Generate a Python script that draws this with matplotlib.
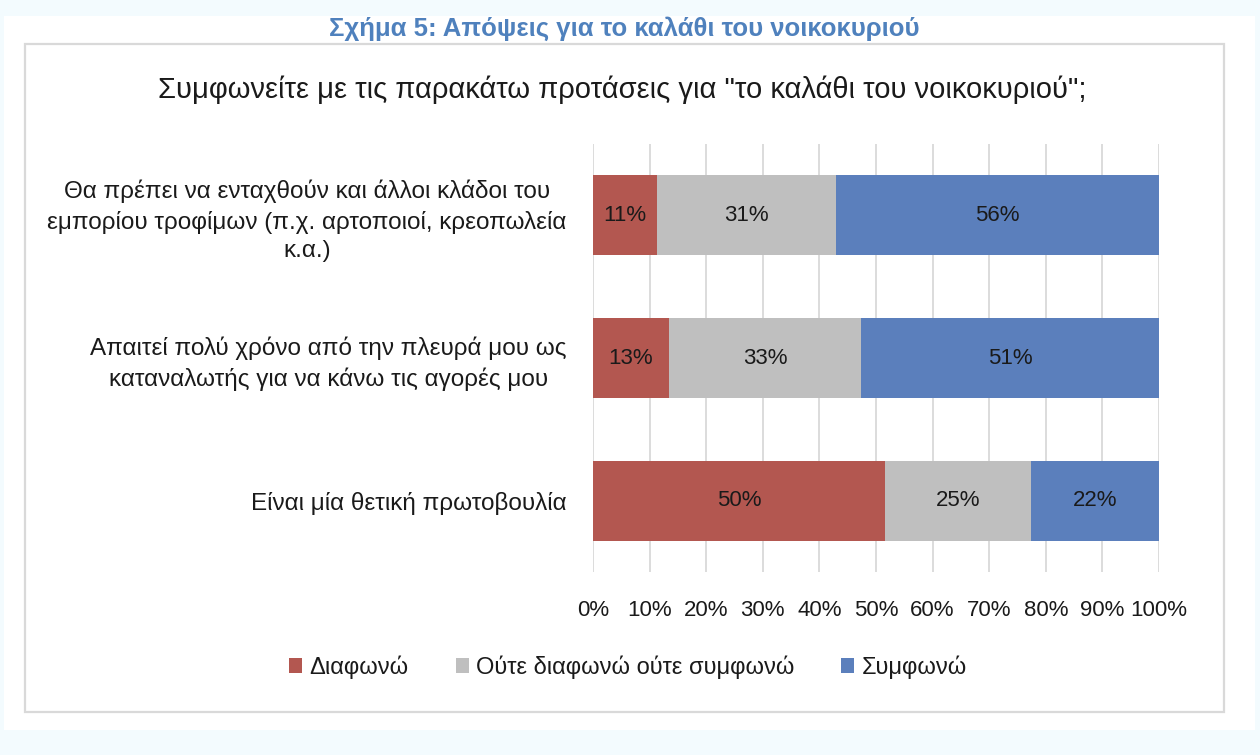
import matplotlib.pyplot as plt
from matplotlib.patches import Rectangle
import numpy as np

plt.rcParams['font.family'] = ['Liberation Sans', 'DejaVu Sans']

# Data (labels show raw %, bars are scaled to 100%)
categories = [
    'Θα πρέπει να ενταχθούν και άλλοι κλάδοι του\nεμπορίου τροφίμων (π.χ. αρτοποιοί, κρεοπωλεία\nκ.α.)',
    'Απαιτεί πολύ χρόνο από την πλευρά μου ως\nκαταναλωτής για να κάνω τις αγορές μου',
    'Είναι μία θετική πρωτοβουλία',
]
disagree = [11, 13, 50]
neutral = [31, 33, 25]
agree = [56, 51, 22]
series_names = ['Διαφωνώ', 'Ούτε διαφωνώ ούτε συμφωνώ', 'Συμφωνώ']
colors = ['#b35750', '#bfbfbf', '#5b7fbc']
tick_labels = ['0%', '10%', '20%', '30%', '40%', '50%', '60%', '70%', '80%', '90%', '100%']

fig = plt.figure(figsize=(12.6, 7.55), dpi=100)
fig.patch.set_facecolor('#f3fbfe')

# white page and grey chart frame (behind the axes)
W, H = 1260, 755
fig.patches.append(Rectangle((4 / W, 1 - 730 / H), (1255 - 4) / W, (730 - 16) / H,
                             transform=fig.transFigure, facecolor='white',
                             edgecolor='none', zorder=-2))
fig.patches.append(Rectangle((25 / W, 1 - 712 / H), (1224 - 25) / W, (712 - 44) / H,
                             transform=fig.transFigure, facecolor='white',
                             edgecolor='#d9d9d9', linewidth=1.6, zorder=-1))

fig.text(624 / W, 1 - 29 / H, 'Σχήμα 5: Απόψεις για το καλάθι του νοικοκυριού',
         ha='center', va='center', fontsize=18.5, fontweight='bold', color='#4f81bd')
fig.text(622 / W, 1 - 90 / H,
         'Συμφωνείτε με τις παρακάτω προτάσεις για "το καλάθι του νοικοκυριού";',
         ha='center', va='center', fontsize=21, color='#1a1a1a')

ax = fig.add_axes([593 / W, 1 - 572 / H, 566 / W, 428 / H])
ax.set_facecolor('none')

data = np.array([disagree, neutral, agree], dtype=float)
shares = data / data.sum(axis=0) * 100
y = np.arange(len(categories))
left = np.zeros(len(categories))
for i in range(len(series_names)):
    ax.barh(y, shares[i], left=left, height=0.56, color=colors[i],
            label=series_names[i], zorder=2)
    for j in range(len(categories)):
        ax.text(left[j] + shares[i][j] / 2, y[j], f'{int(data[i][j])}%',
                ha='center', va='center', fontsize=16, color='#1a1a1a', zorder=3)
    left += shares[i]

ax.set_xlim(0, 100)
ax.set_ylim(len(categories) - 0.5, -0.5)
ax.set_xticks(np.arange(0, 101, 10))
ax.set_xticklabels(tick_labels, fontsize=16, color='#1a1a1a')
ax.set_yticks(y)
ax.set_yticklabels(categories, fontsize=17.5, color='#1a1a1a', ha='right',
                   multialignment='center', linespacing=1.4)
ax.tick_params(axis='y', length=0, pad=19)
ax.tick_params(axis='x', length=0, pad=20)
ax.grid(axis='x', color='#d9d9d9', linewidth=1.3, zorder=0)
for s in ax.spines.values():
    s.set_visible(False)

ax.legend(loc='center', bbox_to_anchor=(628 / W, 1 - 667 / H),
          bbox_transform=fig.transFigure, ncol=3, frameon=False, fontsize=17,
          handlelength=0.55, handleheight=0.55, handletextpad=0.3, columnspacing=2.0,
          labelcolor='#1a1a1a')

fig.savefig('out.png', dpi=100, facecolor=fig.get_facecolor())
